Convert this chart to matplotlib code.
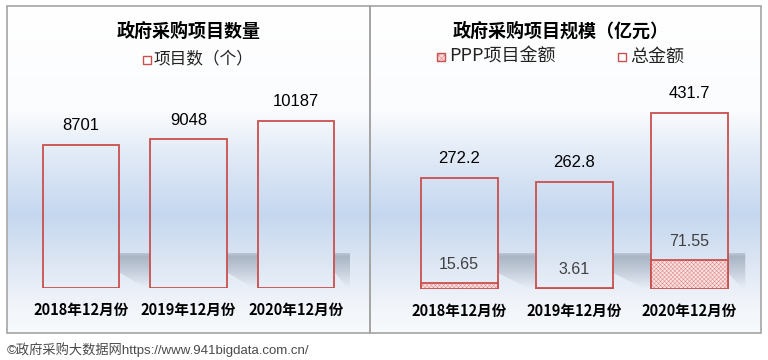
import numpy as np
import matplotlib
matplotlib.use("Agg")
import matplotlib.pyplot as plt
from matplotlib.patches import Rectangle, Polygon
from matplotlib.colors import to_rgb

plt.rcParams['font.family'] = ['Noto Sans CJK SC', 'DejaVu Sans']
plt.rcParams['hatch.linewidth'] = 0.3

months = ['2018年12月份', '2019年12月份', '2020年12月份']
project_counts = [8701, 9048, 10187]
total_amounts = [272.2, 262.8, 431.7]
ppp_amounts = [15.65, 3.61, 71.55]

W, H = 768, 360
RED = '#c9504e'
HATCH_RED = '#e07a7a'
NUM_FONT = ['Liberation Sans', 'DejaVu Sans']

fig = plt.figure(figsize=(W / 100, H / 100), dpi=100)
fig.patch.set_facecolor('white')


def px_axes(x0, y0, x1, y1, **kw):
    # rect given in pixels measured from the top-left corner
    return fig.add_axes([x0 / W, 1 - y1 / H, (x1 - x0) / W, (y1 - y0) / H], **kw)


# background layer: panel gradients, borders, footer
bg = px_axes(0, 0, W, H, zorder=0)
bg.set_xlim(0, W)
bg.set_ylim(H, 0)
bg.axis('off')

stops = [(6, '#ffffff'), (110, '#fbfcfe'), (150, '#e4ecf7'), (215, '#c5d7ef'),
         (262, '#dce6f3'), (300, '#eff3f9'), (333, '#f8fafc')]
ys = np.arange(6, 334)
sy = [s[0] for s in stops]
cols = np.array([to_rgb(s[1]) for s in stops])
grad = np.stack([np.interp(ys, sy, cols[:, k]) for k in range(3)], axis=-1)[:, None, :]
bg.imshow(grad, extent=[8, 369, 333, 6], aspect='auto', interpolation='bilinear')
bg.imshow(grad, extent=[371, 760, 333, 6], aspect='auto', interpolation='bilinear')

for x0, x1 in [(7, 370), (370, 761)]:
    bg.add_patch(Rectangle((x0, 6), x1 - x0, 327, fill=False, ec='#a3a3a3', lw=1.2))

bg.text(7, 350, '©政府采购大数据网https://www.941bigdata.com.cn/', fontsize=9.5,
        color='#4a4a4a', va='center', ha='left',
        family=['Liberation Sans', 'Noto Sans CJK SC'])

# titles and legends
bg.text(189, 31, '政府采购项目数量', fontsize=13, fontweight='bold', ha='center', va='center')
bg.text(561, 31, '政府采购项目规模（亿元）', fontsize=13, fontweight='bold', ha='center', va='center')

bg.add_patch(Rectangle((143, 56), 8, 8, fc='white', ec=RED, lw=1.0))
bg.text(154, 60, '项目数（个）', fontsize=12, ha='left', va='center', color='#222222')

bg.add_patch(Rectangle((437, 53), 8, 8, fc='#f6dada', ec=HATCH_RED, lw=0, hatch='xxxxxx'))
bg.add_patch(Rectangle((437, 53), 8, 8, fill=False, ec=RED, lw=1.0))
bg.text(449, 57, 'PPP项目金额', fontsize=13, ha='left', va='center', color='#222222')
bg.add_patch(Rectangle((618, 53), 8, 8, fc='white', ec=RED, lw=1.0))
bg.text(630, 57, '总金额', fontsize=13, ha='left', va='center', color='#222222')


def shadows(ax, width, top_frac):
    # soft floor shadow cast to the right of each bar
    y_top = ax.get_ylim()[1] * top_frac
    shade = np.zeros((60, 1, 4))
    shade[..., :3] = to_rgb('#97a2b2')
    shade[:, 0, 3] = np.concatenate([np.linspace(0.45, 0.7, 6), np.linspace(0.7, 0.0, 54)])
    for i in range(3):
        xr = i + width / 2
        xn = i + 1 - width / 2 if i < 2 else xr + 0.15
        gap = xn - xr
        poly = Polygon([(xr, y_top), (xn, y_top), (xn, 0), (xr + 0.85 * gap, 0),
                        (xr, y_top * 0.45)], closed=True, fc='none', ec='none')
        ax.add_patch(poly)
        im = ax.imshow(shade, extent=[xr, xn, 0, y_top], aspect='auto',
                       interpolation='bilinear', zorder=1)
        im.set_clip_path(poly)


def style(ax, ymax):
    ax.set_xlim(-0.5, 2.5)
    ax.set_ylim(0, ymax)
    ax.patch.set_alpha(0)
    for s in ax.spines.values():
        s.set_visible(False)
    ax.set_yticks([])
    ax.set_xticks(range(3))
    ax.set_xticklabels(months, fontsize=10.5, fontweight='bold')
    ax.tick_params(axis='x', length=0, pad=10)


# left panel: project counts
ax1 = px_axes(27, 91, 350, 288, zorder=2)
style(ax1, 12000)
w1 = 0.71
shadows(ax1, w1, 35 / 197)
ax1.bar(range(3), project_counts, width=w1, fc='none', ec=RED, lw=1.3, zorder=3)
for i, v in enumerate(project_counts):
    ax1.annotate(f'{v}', (i, v), xytext=(0, 14), textcoords='offset points',
                 ha='center', va='center', fontsize=12, family=NUM_FONT)

# right panel: amounts
ax2 = px_axes(401.5, 85, 747, 289, zorder=2)
style(ax2, 500)
w2 = 0.67
shadows(ax2, w2, 36 / 204)
ax2.bar(range(3), total_amounts, width=w2, fc='none', ec=RED, lw=1.3, zorder=3)
ax2.bar(range(3), ppp_amounts, width=w2, fc='#f8e2e2', ec=HATCH_RED, lw=0,
        hatch='xxxxxxxx', zorder=4)
ax2.bar(range(3), ppp_amounts, width=w2, fc='none', ec=RED, lw=1.3, zorder=5)
for i, v in enumerate(total_amounts):
    ax2.annotate(f'{v}', (i, v), xytext=(0, 14), textcoords='offset points',
                 ha='center', va='center', fontsize=12, family=NUM_FONT)
for i, v in enumerate(ppp_amounts):
    ax2.annotate(f'{v}', (i, v), xytext=(0, 13), textcoords='offset points',
                 ha='center', va='center', fontsize=11.5, family=NUM_FONT,
                 color='#404040')

fig.savefig('out.png', dpi=100)
